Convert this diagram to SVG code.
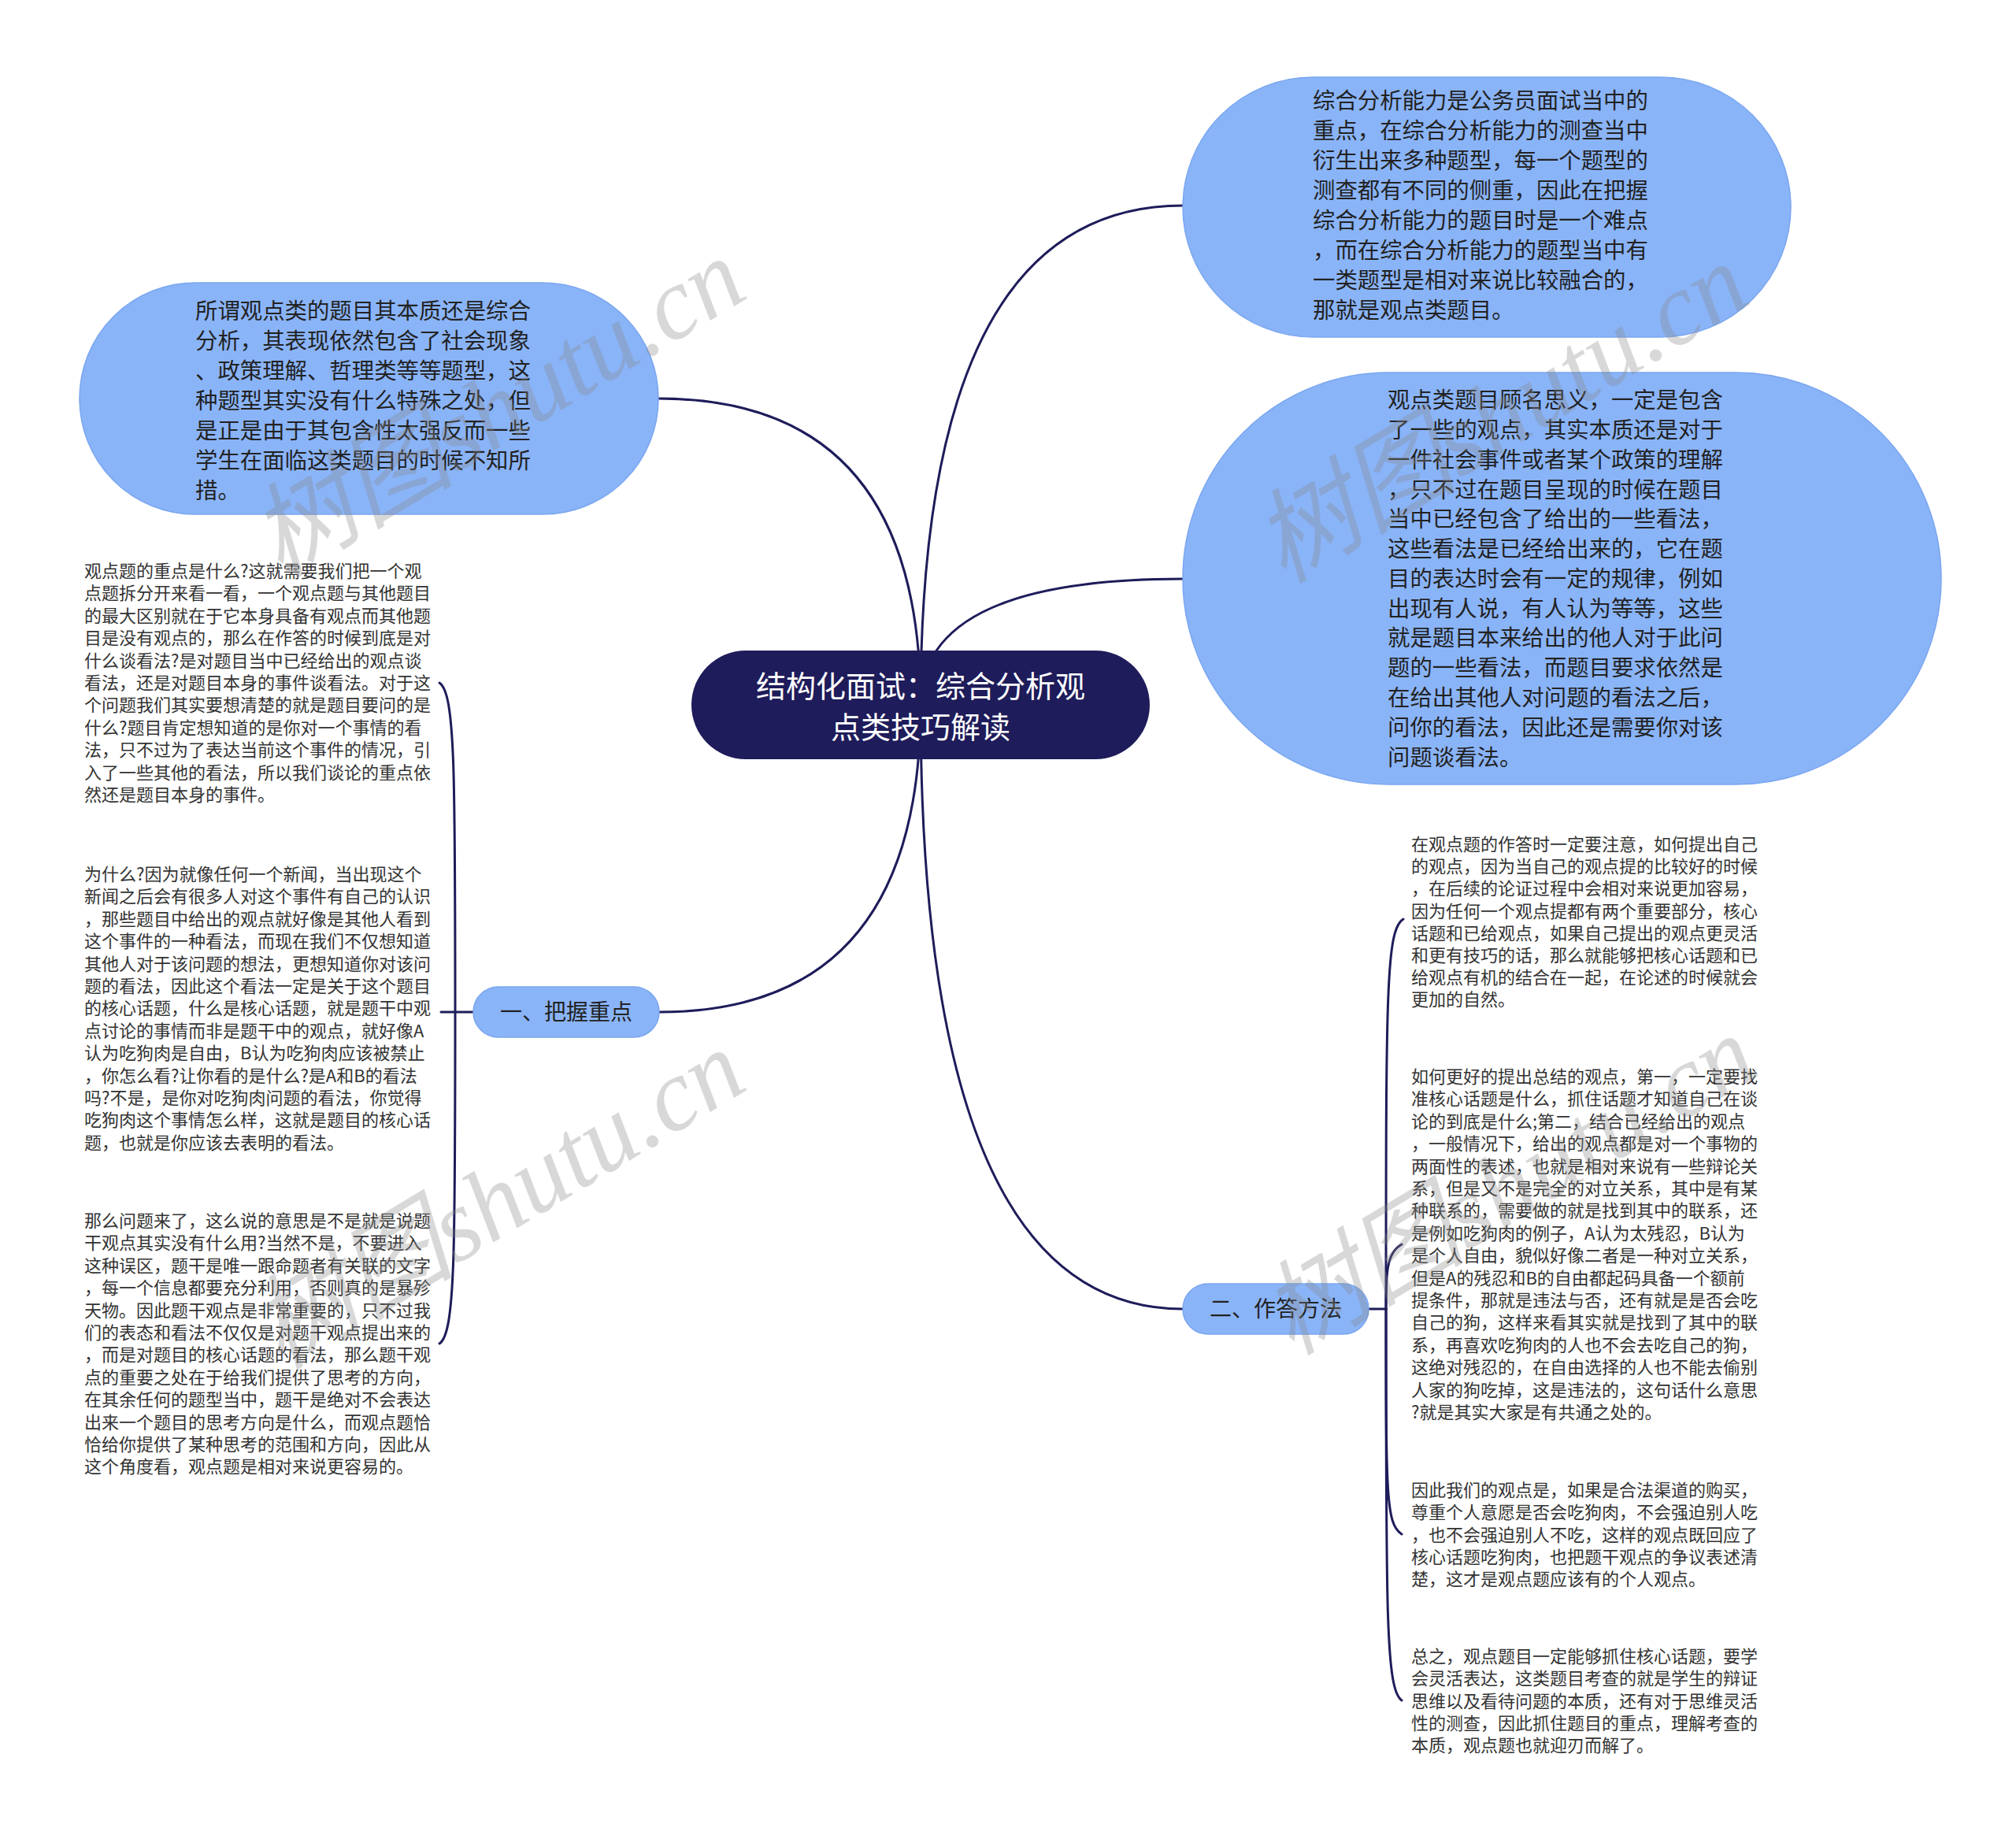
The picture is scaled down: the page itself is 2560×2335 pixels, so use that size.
<svg xmlns="http://www.w3.org/2000/svg" width="2560" height="2335" viewBox="0 0 2560 2335">
<defs>
<style>
.bg{fill:#ffffff}
.bubble{fill:#8ab4f8;stroke:#7aa6f0;stroke-width:1.5}
.bt{font-family:"Noto Sans CJK SC","Noto Sans",sans-serif;font-size:28.4px;fill:#222222}
.st{font-family:"Noto Sans CJK SC","Noto Sans",sans-serif;font-size:22px;fill:#333333}
.ct{font-family:"Noto Sans CJK SC","Noto Sans",sans-serif;font-size:38px;fill:#ffffff;text-anchor:middle}
.brt{font-family:"Noto Sans CJK SC","Noto Sans",sans-serif;font-size:28px;fill:#222222;text-anchor:middle}
.conn{fill:none;stroke:#1e1c5a;stroke-width:3;stroke-linecap:round}
.wm{font-family:"Liberation Serif","Noto Sans CJK SC",serif;font-style:italic;font-size:130px;fill:#8a8a8a;fill-opacity:0.33}
</style>
</defs>
<rect class="bg" x="0" y="0" width="2560" height="2335"/>

<g id="connectors">
<path class="conn" d="M1169,895 Q1169,261 1502,261"/>
<path class="conn" d="M1169,895 Q1169,735 1502,735"/>
<path class="conn" d="M1169,895 Q1169,506 836,506"/>
<path class="conn" d="M1169,895 Q1169,1285 837,1285"/>
<path class="conn" d="M1169,895 Q1169,1662 1502,1662"/>
<path class="conn" d="M601,1285 H578"/>
<path class="conn" d="M578,1285 C578,980 578,880 558,867"/>
<path class="conn" d="M578,1285 H560"/>
<path class="conn" d="M578,1285 C578,1590 578,1693 558,1706"/>
<path class="conn" d="M1738,1662 H1760"/>
<path class="conn" d="M1760,1662 C1760,1260 1760,1180 1782,1167"/>
<path class="conn" d="M1760,1662 C1760,1620 1760,1590 1780,1580"/>
<path class="conn" d="M1760,1662 C1760,1900 1760,1935 1780,1948"/>
<path class="conn" d="M1760,1662 C1760,2050 1760,2145 1780,2159"/>
</g>

<g id="center">
<rect x="878" y="826" width="582" height="138" rx="69" ry="69" fill="#1e1c5a"/>
<text class="ct" x="1169" y="885">结构化面试：综合分析观</text>
<text class="ct" x="1169" y="937">点类技巧解读</text>
</g>

<g id="bubble-top-left">
<rect class="bubble" x="101" y="359" width="735" height="294" rx="147" ry="147"/>
<text class="bt" x="248" y="405">所谓观点类的题目其本质还是综合</text>
<text class="bt" x="248" y="443">分析，其表现依然包含了社会现象</text>
<text class="bt" x="248" y="481">、政策理解、哲理类等等题型，这</text>
<text class="bt" x="248" y="519">种题型其实没有什么特殊之处，但</text>
<text class="bt" x="248" y="557">是正是由于其包含性太强反而一些</text>
<text class="bt" x="248" y="595">学生在面临这类题目的时候不知所</text>
<text class="bt" x="248" y="633">措。</text>
</g>

<g id="bubble-top-right">
<rect class="bubble" x="1502" y="98" width="772" height="330" rx="165" ry="165"/>
<text class="bt" x="1667" y="138">综合分析能力是公务员面试当中的</text>
<text class="bt" x="1667" y="176">重点，在综合分析能力的测查当中</text>
<text class="bt" x="1667" y="214">衍生出来多种题型，每一个题型的</text>
<text class="bt" x="1667" y="252">测查都有不同的侧重，因此在把握</text>
<text class="bt" x="1667" y="290">综合分析能力的题目时是一个难点</text>
<text class="bt" x="1667" y="328">，而在综合分析能力的题型当中有</text>
<text class="bt" x="1667" y="366">一类题型是相对来说比较融合的，</text>
<text class="bt" x="1667" y="404">那就是观点类题目。</text>
</g>

<g id="bubble-right">
<rect class="bubble" x="1502" y="473" width="963" height="523" rx="261" ry="261"/>
<text class="bt" x="1762" y="518">观点类题目顾名思义，一定是包含</text>
<text class="bt" x="1762" y="556">了一些的观点，其实本质还是对于</text>
<text class="bt" x="1762" y="594">一件社会事件或者某个政策的理解</text>
<text class="bt" x="1762" y="632">，只不过在题目呈现的时候在题目</text>
<text class="bt" x="1762" y="669">当中已经包含了给出的一些看法，</text>
<text class="bt" x="1762" y="707">这些看法是已经给出来的，它在题</text>
<text class="bt" x="1762" y="745">目的表达时会有一定的规律，例如</text>
<text class="bt" x="1762" y="783">出现有人说，有人认为等等，这些</text>
<text class="bt" x="1762" y="820">就是题目本来给出的他人对于此问</text>
<text class="bt" x="1762" y="858">题的一些看法，而题目要求依然是</text>
<text class="bt" x="1762" y="896">在给出其他人对问题的看法之后，</text>
<text class="bt" x="1762" y="934">问你的看法，因此还是需要你对该</text>
<text class="bt" x="1762" y="972">问题谈看法。</text>
</g>

<g id="branch-1">
<rect x="601" y="1253" width="236" height="64" rx="32" ry="32" fill="#8ab4f8" stroke="#7aa6f0" stroke-width="1.5"/>
<text class="brt" x="719" y="1295">一、把握重点</text>
</g>

<g id="branch-2">
<rect x="1502" y="1630" width="236" height="64" rx="32" ry="32" fill="#8ab4f8" stroke="#7aa6f0" stroke-width="1.5"/>
<text class="brt" x="1620" y="1672">二、作答方法</text>
</g>

<g id="left-text-1">
<text class="st" x="107" y="733">观点题的重点是什么?这就需要我们把一个观</text>
<text class="st" x="107" y="761.4">点题拆分开来看一看，一个观点题与其他题目</text>
<text class="st" x="107" y="789.8">的最大区别就在于它本身具备有观点而其他题</text>
<text class="st" x="107" y="818.2">目是没有观点的，那么在作答的时候到底是对</text>
<text class="st" x="107" y="846.6">什么谈看法?是对题目当中已经给出的观点谈</text>
<text class="st" x="107" y="875">看法，还是对题目本身的事件谈看法。对于这</text>
<text class="st" x="107" y="903.4">个问题我们其实要想清楚的就是题目要问的是</text>
<text class="st" x="107" y="931.8">什么?题目肯定想知道的是你对一个事情的看</text>
<text class="st" x="107" y="960.2">法，只不过为了表达当前这个事件的情况，引</text>
<text class="st" x="107" y="988.6">入了一些其他的看法，所以我们谈论的重点依</text>
<text class="st" x="107" y="1017">然还是题目本身的事件。</text>
</g>

<g id="left-text-2">
<text class="st" x="107" y="1118">为什么?因为就像任何一个新闻，当出现这个</text>
<text class="st" x="107" y="1146.4">新闻之后会有很多人对这个事件有自己的认识</text>
<text class="st" x="107" y="1174.8">，那些题目中给出的观点就好像是其他人看到</text>
<text class="st" x="107" y="1203.2">这个事件的一种看法，而现在我们不仅想知道</text>
<text class="st" x="107" y="1231.6">其他人对于该问题的想法，更想知道你对该问</text>
<text class="st" x="107" y="1260">题的看法，因此这个看法一定是关于这个题目</text>
<text class="st" x="107" y="1288.4">的核心话题，什么是核心话题，就是题干中观</text>
<text class="st" x="107" y="1316.8">点讨论的事情而非是题干中的观点，就好像A</text>
<text class="st" x="107" y="1345.2">认为吃狗肉是自由，B认为吃狗肉应该被禁止</text>
<text class="st" x="107" y="1373.6">，你怎么看?让你看的是什么?是A和B的看法</text>
<text class="st" x="107" y="1402">吗?不是，是你对吃狗肉问题的看法，你觉得</text>
<text class="st" x="107" y="1430.4">吃狗肉这个事情怎么样，这就是题目的核心话</text>
<text class="st" x="107" y="1458.8">题，也就是你应该去表明的看法。</text>
</g>

<g id="left-text-3">
<text class="st" x="107" y="1558">那么问题来了，这么说的意思是不是就是说题</text>
<text class="st" x="107" y="1586.4">干观点其实没有什么用?当然不是，不要进入</text>
<text class="st" x="107" y="1614.8">这种误区，题干是唯一跟命题者有关联的文字</text>
<text class="st" x="107" y="1643.2">，每一个信息都要充分利用，否则真的是暴殄</text>
<text class="st" x="107" y="1671.6">天物。因此题干观点是非常重要的，只不过我</text>
<text class="st" x="107" y="1700">们的表态和看法不仅仅是对题干观点提出来的</text>
<text class="st" x="107" y="1728.4">，而是对题目的核心话题的看法，那么题干观</text>
<text class="st" x="107" y="1756.8">点的重要之处在于给我们提供了思考的方向，</text>
<text class="st" x="107" y="1785.2">在其余任何的题型当中，题干是绝对不会表达</text>
<text class="st" x="107" y="1813.6">出来一个题目的思考方向是什么，而观点题恰</text>
<text class="st" x="107" y="1842">恰给你提供了某种思考的范围和方向，因此从</text>
<text class="st" x="107" y="1870.4">这个角度看，观点题是相对来说更容易的。</text>
</g>

<g id="right-text-1">
<text class="st" x="1792" y="1080">在观点题的作答时一定要注意，如何提出自己</text>
<text class="st" x="1792" y="1108.2">的观点，因为当自己的观点提的比较好的时候</text>
<text class="st" x="1792" y="1136.4">，在后续的论证过程中会相对来说更加容易，</text>
<text class="st" x="1792" y="1164.6">因为任何一个观点提都有两个重要部分，核心</text>
<text class="st" x="1792" y="1192.8">话题和已给观点，如果自己提出的观点更灵活</text>
<text class="st" x="1792" y="1221">和更有技巧的话，那么就能够把核心话题和已</text>
<text class="st" x="1792" y="1249.2">给观点有机的结合在一起，在论述的时候就会</text>
<text class="st" x="1792" y="1277.4">更加的自然。</text>
</g>

<g id="right-text-2">
<text class="st" x="1792" y="1375">如何更好的提出总结的观点，第一，一定要找</text>
<text class="st" x="1792" y="1403.4">准核心话题是什么，抓住话题才知道自己在谈</text>
<text class="st" x="1792" y="1431.8">论的到底是什么;第二，结合已经给出的观点</text>
<text class="st" x="1792" y="1460.2">，一般情况下，给出的观点都是对一个事物的</text>
<text class="st" x="1792" y="1488.6">两面性的表述，也就是相对来说有一些辩论关</text>
<text class="st" x="1792" y="1517">系，但是又不是完全的对立关系，其中是有某</text>
<text class="st" x="1792" y="1545.4">种联系的，需要做的就是找到其中的联系，还</text>
<text class="st" x="1792" y="1573.8">是例如吃狗肉的例子，A认为太残忍，B认为</text>
<text class="st" x="1792" y="1602.2">是个人自由，貌似好像二者是一种对立关系，</text>
<text class="st" x="1792" y="1630.6">但是A的残忍和B的自由都起码具备一个额前</text>
<text class="st" x="1792" y="1659">提条件，那就是违法与否，还有就是是否会吃</text>
<text class="st" x="1792" y="1687.4">自己的狗，这样来看其实就是找到了其中的联</text>
<text class="st" x="1792" y="1715.8">系，再喜欢吃狗肉的人也不会去吃自己的狗，</text>
<text class="st" x="1792" y="1744.2">这绝对残忍的，在自由选择的人也不能去偷别</text>
<text class="st" x="1792" y="1772.6">人家的狗吃掉，这是违法的，这句话什么意思</text>
<text class="st" x="1792" y="1801">?就是其实大家是有共通之处的。</text>
</g>

<g id="right-text-3">
<text class="st" x="1792" y="1900">因此我们的观点是，如果是合法渠道的购买，</text>
<text class="st" x="1792" y="1928.3">尊重个人意愿是否会吃狗肉，不会强迫别人吃</text>
<text class="st" x="1792" y="1956.6">，也不会强迫别人不吃，这样的观点既回应了</text>
<text class="st" x="1792" y="1984.9">核心话题吃狗肉，也把题干观点的争议表述清</text>
<text class="st" x="1792" y="2013.2">楚，这才是观点题应该有的个人观点。</text>
</g>

<g id="right-text-4">
<text class="st" x="1792" y="2111">总之，观点题目一定能够抓住核心话题，要学</text>
<text class="st" x="1792" y="2139.3">会灵活表达，这类题目考查的就是学生的辩证</text>
<text class="st" x="1792" y="2167.6">思维以及看待问题的本质，还有对于思维灵活</text>
<text class="st" x="1792" y="2195.9">性的测查，因此抓住题目的重点，理解考查的</text>
<text class="st" x="1792" y="2224.2">本质，观点题也就迎刃而解了。</text>
</g>

<g id="watermarks">
<text class="wm" x="356" y="735" transform="rotate(-31 356 735)">树图shutu.cn</text>
<text class="wm" x="356" y="1740" transform="rotate(-31 356 1740)">树图shutu.cn</text>
<text class="wm" x="1630" y="742" transform="rotate(-31 1630 742)">树图shutu.cn</text>
<text class="wm" x="1640" y="1722" transform="rotate(-31 1640 1722)">树图shutu.cn</text>
</g>
</svg>
